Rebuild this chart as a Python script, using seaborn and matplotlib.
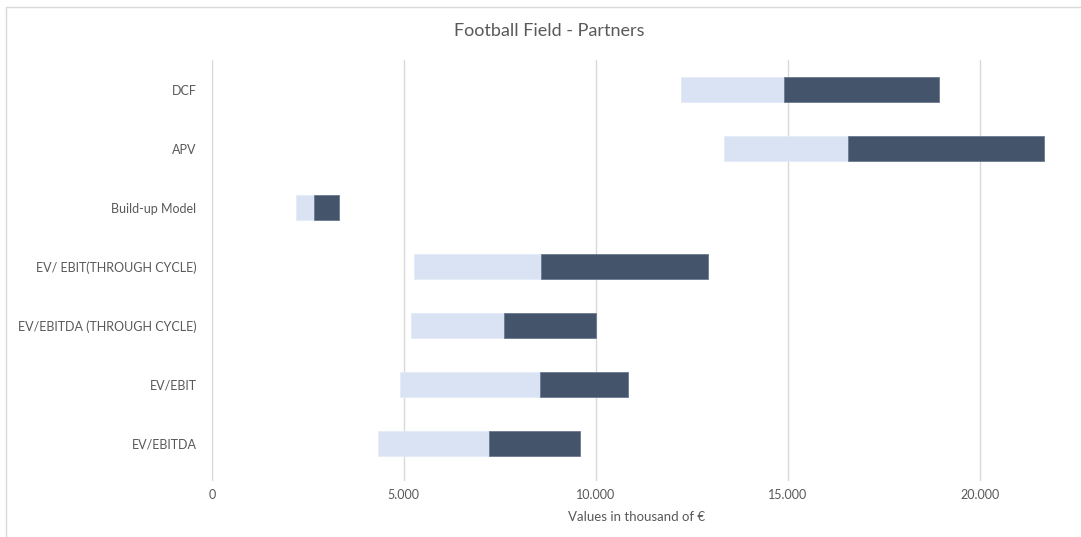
import matplotlib
matplotlib.use("Agg")
import matplotlib.pyplot as plt
from matplotlib.lines import Line2D
import seaborn as sns
import pandas as pd

# Valuation ranges per method (thousand EUR): low end, midpoint, high end
methods = ["DCF", "APV", "Build-up Model", "EV/ EBIT(THROUGH CYCLE)",
           "EV/EBITDA (THROUGH CYCLE)", "EV/EBIT", "EV/EBITDA"]
low = [12210, 13340, 2200, 5260, 5190, 4900, 4330]
mid = [14890, 16570, 2660, 8570, 7620, 8540, 7220]
high = [18940, 21670, 3310, 12920, 10000, 10850, 9590]

x_ticks = [0, 5000, 10000, 15000, 20000]
x_tick_labels = ["0", "5.000", "10.000", "15.000", "20.000"]

df = pd.DataFrame({"method": methods, "low": low, "mid": mid, "high": high})
df["lower_span"] = df["mid"] - df["low"]
df["upper_span"] = df["high"] - df["mid"]

sns.set_theme(style="white")
plt.rcParams["font.family"] = ["Lato", "DejaVu Sans"]

text_color = "#595959"
grid_color = "#d9d9d9"
light_color = "#dae3f3"
dark_color = "#44546a"

fig = plt.figure(figsize=(10.81, 5.37), dpi=100)
# plot area: 60 px from the top down to 481 px
ax = fig.add_axes([211.8 / 1081, 56 / 537, 848.6 / 1081, 421 / 537])

sns.barplot(data=df, x="lower_span", y="method", order=methods, orient="h",
            left=df["low"].to_numpy(), color=light_color, saturation=1,
            width=0.41, edgecolor="#e6ecf7", linewidth=0.6, ax=ax, zorder=2)
sns.barplot(data=df, x="upper_span", y="method", order=methods, orient="h",
            left=df["mid"].to_numpy(), color=dark_color, saturation=1,
            width=0.41, edgecolor="#6b7890", linewidth=0.6, ax=ax, zorder=3)

ax.set_xlim(0, 22100)
ax.set_ylim(len(methods) - 0.5 + 8 / 59, -0.5)
ax.set_xticks(x_ticks)
ax.set_xticklabels(x_tick_labels)
ax.xaxis.grid(True, color=grid_color, linewidth=1.0, zorder=0)
ax.yaxis.grid(False)
ax.set_axisbelow(True)
for s in ax.spines.values():
    s.set_visible(False)
ax.tick_params(axis="both", length=0, labelsize=9, colors=text_color)
ax.tick_params(axis="y", pad=11)
ax.tick_params(axis="x", pad=6)
ax.set_ylabel("")
ax.set_xlabel("Values in thousand of €", fontsize=9.5, color=text_color, labelpad=7)

fig.text(549 / 1081, 1 - 31 / 537, "Football Field - Partners", ha="center",
         va="center", fontsize=13, color=text_color)

# Chart frame
fig.add_artist(Line2D([6 / 1081, 6 / 1081], [0, 1 - 7 / 537],
                      transform=fig.transFigure, color=grid_color, linewidth=1))
fig.add_artist(Line2D([6 / 1081, 1], [1 - 7 / 537, 1 - 7 / 537],
                      transform=fig.transFigure, color=grid_color, linewidth=1))

fig.savefig("out.png", dpi=100, facecolor="white")
